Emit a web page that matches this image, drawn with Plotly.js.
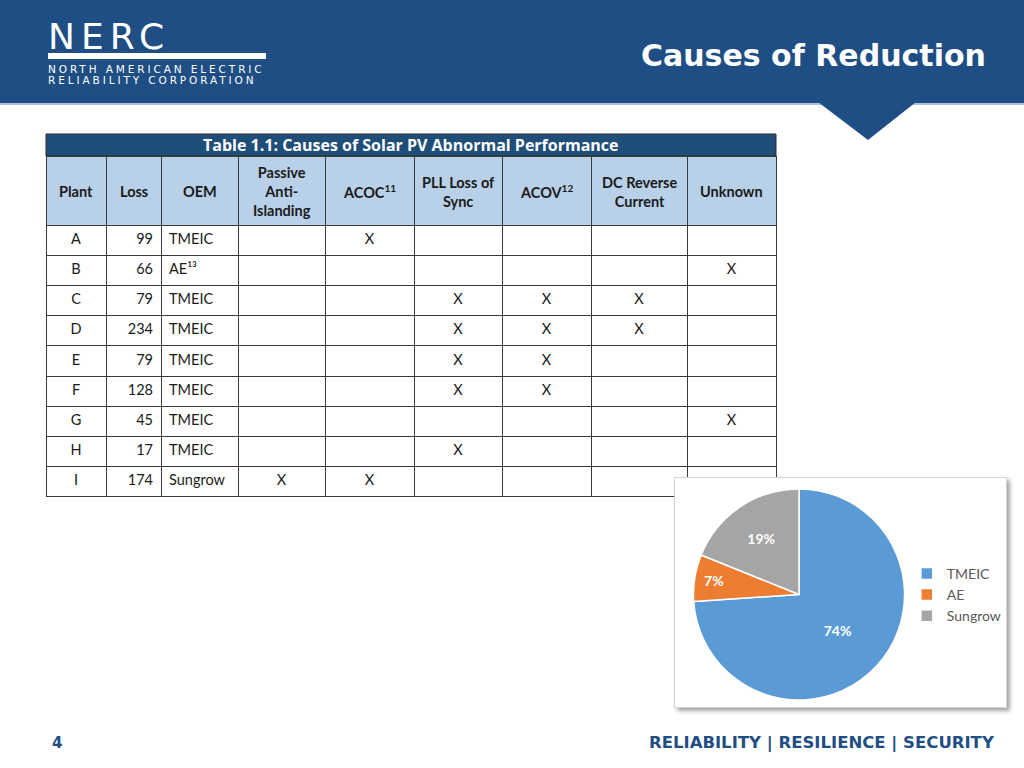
<!DOCTYPE html>
<html>
<head>
<meta charset="utf-8">
<script src="https://cdn.plot.ly/plotly-3.0.1.min.js"></script>
<style>
  html, body { margin: 0; padding: 0; background: #ffffff; }
  #slide { position: absolute; left: 0; top: 0; width: 1024px; height: 768px; }
  #pieBox { position: absolute; left: 674px; top: 477px; width: 331px; height: 229px;
            border: 1px solid #d4d4d4; background: #fff;
            box-shadow: 3px 3px 4px rgba(0,0,0,0.35); }
</style>
</head>
<body>
<div id="slide"></div>
<div id="pieBox"></div>
<script>
// ---------------- DATA ----------------
const tableTitle = 'Table 1.1: Causes of Solar PV Abnormal Performance';
const columnHeaders = ['Plant', 'Loss', 'OEM', 'Passive<br>Anti-<br>Islanding', 'ACOC<sup>11</sup>',
                       'PLL Loss of<br>Sync', 'ACOV<sup>12</sup>', 'DC Reverse<br>Current', 'Unknown'];
const plants  = ['A', 'B', 'C', 'D', 'E', 'F', 'G', 'H', 'I'];
const losses  = [99, 66, 79, 234, 79, 128, 45, 17, 174];
const oems    = ['TMEIC', 'AE', 'TMEIC', 'TMEIC', 'TMEIC', 'TMEIC', 'TMEIC', 'TMEIC', 'Sungrow'];
const oemNotes = ['', '¹³', '', '', '', '', '', '', ''];
const passiveAntiIslanding = ['', '', '', '', '', '', '', '', 'X'];
const acoc          = ['X', '', '', '', '', '', '', '', 'X'];
const pllLossOfSync = ['', '', 'X', 'X', 'X', 'X', '', 'X', ''];
const acov          = ['', '', 'X', 'X', 'X', 'X', '', '', ''];
const dcReverse     = ['', '', 'X', 'X', '', '', '', '', ''];
const unknown       = ['', 'X', '', '', '', '', 'X', '', ''];
const pieLabels = ['TMEIC', 'AE', 'Sungrow'];
const slideTitle = 'Causes of Reduction';
const footerText = 'RELIABILITY | RESILIENCE | SECURITY';
const pageNumber = '4';
const logoWord = 'NERC';
const logoLine1 = 'NORTH AMERICAN ELECTRIC';
const logoLine2 = 'RELIABILITY CORPORATION';

// ---------------- LAYOUT HELPERS ----------------
const W = 1024, H = 768;
const px = x => x / W;
const py = y => 1 - y / H;
const NAVY = '#1f4e84';
const colWidths = [60, 55, 77, 87, 89, 88, 89, 96, 89];
const tableLeft = 46, tableRight = 776;
const headerTop = 156, headerH = 69;

const oemLabels = oems.map((o, i) => o + oemNotes[i]);

const tableTrace = {
  type: 'table',
  domain: { x: [px(tableLeft), px(tableRight)], y: [0, py(headerTop)] },
  columnwidth: colWidths,
  header: {
    values: columnHeaders.map(() => ''),
    height: headerH,
    fill: { color: '#b8d0e8' },
    line: { color: '#3a3a3a', width: 1 },
    font: { family: 'Lato', size: 14.5, color: '#1a1a1a' }
  },
  cells: {
    values: [plants, losses, oemLabels, passiveAntiIslanding, acoc, pllLossOfSync, acov, dcReverse, unknown],
    height: 30.2,
    align: ['center', 'right', 'left', 'center', 'center', 'center', 'center', 'center', 'center'],
    fill: { color: '#ffffff' },
    line: { color: '#3a3a3a', width: 1 },
    font: { family: 'Lato', size: 14.5, color: '#1a1a1a' }
  },
  hoverinfo: 'none'
};

const shapes = [
  { type: 'rect', xref: 'paper', yref: 'paper', x0: 0, x1: 1, y0: py(103), y1: 1,
    fillcolor: NAVY, line: { width: 0 }, layer: 'below' },
  { type: 'rect', xref: 'paper', yref: 'paper', x0: 0, x1: 1, y0: py(105), y1: py(103),
    fillcolor: '#a8c3e0', line: { width: 0 }, layer: 'below' },
  { type: 'path', xref: 'paper', yref: 'paper',
    path: `M ${px(818)} ${py(102)} L ${px(916)} ${py(102)} L ${px(868)} ${py(140)} Z`,
    fillcolor: NAVY, line: { width: 0 }, layer: 'below' },
  { type: 'rect', xref: 'paper', yref: 'paper', x0: px(48), x1: px(266), y0: py(59), y1: py(53),
    fillcolor: '#ffffff', line: { width: 0 }, layer: 'below' },
  { type: 'rect', xref: 'paper', yref: 'paper', x0: px(tableLeft), x1: px(tableRight), y0: py(156), y1: py(134),
    fillcolor: '#1f4e79', line: { color: '#2a2a2a', width: 1 }, layer: 'below' }
];

// header labels centred in each column
const totalW = colWidths.reduce((a, b) => a + b, 0);
const scale = (tableRight - tableLeft) / totalW;
let acc = tableLeft;
const headerAnns = columnHeaders.map((h, i) => {
  const cx = acc + colWidths[i] * scale / 2;
  acc += colWidths[i] * scale;
  return { text: '<b>' + h + '</b>', x: px(cx), y: py(headerTop + headerH / 2 + 1), xanchor: 'center', yanchor: 'middle',
           align: 'center', font: { family: 'Lato', size: 14.5, color: '#1a1a1a' } };
});

const annotations = [
  { text: logoWord, x: px(46), y: py(36), xanchor: 'left', yanchor: 'middle', align: 'left',
    font: { family: 'DejaVu Sans', size: 36, color: '#ffffff' } },
  { text: logoLine1, x: px(46), y: py(68.5), xanchor: 'left', yanchor: 'middle', align: 'left',
    font: { family: 'DejaVu Sans', size: 10.5, color: '#ffffff' } },
  { text: logoLine2, x: px(46), y: py(80), xanchor: 'left', yanchor: 'middle', align: 'left',
    font: { family: 'DejaVu Sans', size: 10.5, color: '#ffffff' } },
  { text: '<b>' + slideTitle + '</b>', x: px(988), y: py(55), xanchor: 'right', yanchor: 'middle',
    font: { family: 'DejaVu Sans', size: 30, color: '#ffffff' } },
  { text: '<b>' + tableTitle + '</b>', x: px((tableLeft + tableRight) / 2), y: py(145), xanchor: 'center', yanchor: 'middle',
    font: { family: 'Open Sans', size: 16, color: '#ffffff' } },
  { text: '<b>' + pageNumber + '</b>', x: px(50), y: py(743), xanchor: 'left', yanchor: 'middle',
    font: { family: 'DejaVu Sans', size: 15, color: NAVY } },
  { text: '<b>' + footerText + '</b>', x: px(997), y: py(743), xanchor: 'right', yanchor: 'middle',
    font: { family: 'DejaVu Sans', size: 16.5, color: NAVY } }
].concat(headerAnns).map(a => Object.assign({ xref: 'paper', yref: 'paper', showarrow: false }, a));

Plotly.newPlot('slide', [tableTrace], {
  width: W, height: H,
  margin: { l: 0, r: 0, t: 0, b: 0 },
  paper_bgcolor: '#ffffff',
  plot_bgcolor: '#ffffff',
  shapes: shapes,
  annotations: annotations,
  showlegend: false
}, { staticPlot: true, displayModeBar: false }).then(() => {
  // wide tracking of the logo lettering
  document.querySelectorAll('#slide .annotation-text').forEach(t => {
    const s = t.textContent;
    if (s === logoLine1 || s === logoLine2) t.style.letterSpacing = '2.9px';
    if (s === logoWord) t.style.letterSpacing = '6px';
  });
});

// ---------------- PIE ----------------
const pieValues = pieLabels.map(name => losses.reduce((s, v, i) => s + (oems[i] === name ? v : 0), 0));
const BW = 331, BH = 229;
Plotly.newPlot('pieBox', [{
  type: 'pie',
  labels: pieLabels,
  values: pieValues,
  sort: false,
  direction: 'clockwise',
  rotation: 0,
  marker: { colors: ['#5b9bd5', '#ed7d31', '#a5a5a5'], line: { color: '#ffffff', width: 1.5 } },
  texttemplate: '<b>%{percent:.0%}</b>',
  textposition: 'inside',
  insidetextorientation: 'horizontal',
  textfont: { family: 'Lato', size: 14, color: '#ffffff' },
  domain: { x: [19 / BW, 236 / BW], y: [1 - 225 / BH, 1 - 8 / BH] },
  hoverinfo: 'none'
}], {
  width: BW, height: BH,
  margin: { l: 0, r: 0, t: 0, b: 0 },
  paper_bgcolor: '#ffffff',
  showlegend: true,
  legend: { x: 0.72, y: 0.49, xanchor: 'left', yanchor: 'middle',
            font: { family: 'Lato', size: 14, color: '#595959' } }
}, { staticPlot: true, displayModeBar: false });
</script>
</body>
</html>
